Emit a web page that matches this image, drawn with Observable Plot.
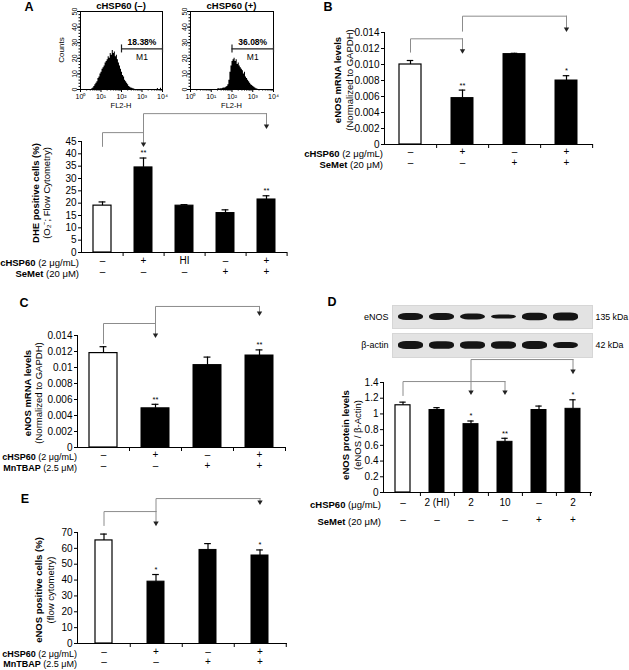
<!DOCTYPE html>
<html><head><meta charset="utf-8">
<script src="https://cdn.jsdelivr.net/npm/d3@7"></script>
<script src="https://cdn.jsdelivr.net/npm/@observablehq/plot@0.6"></script>
<style>
body{margin:0;background:#fff;}
#fig{position:relative;width:629px;height:670px;overflow:hidden;background:#fff;font-family:"Liberation Sans",Arial,Helvetica,sans-serif;color:#000;}
#fig svg{position:absolute;left:0;top:0;}
.lbl{position:absolute;white-space:nowrap;line-height:1;}
</style></head><body><div id="fig"></div><script>
// ---------- DATA ----------
// Panel A: flow cytometry histograms (log10 FL2-H channel, counts)
const histNegExp = [0.55,0.6,0.65,0.7,0.75,0.8,0.85,0.9,0.95,1.0,1.05,1.1,1.15,1.2,1.25,1.3,1.35,1.4,1.45,1.5,1.55,1.6,1.65,1.7,1.75,1.8,1.85,1.9,1.95,2.0,2.05,2.1,2.15,2.2,2.25,2.3,2.35,2.4,2.45,2.5,2.55,2.6,2.65,3.75,3.8,3.9,3.95];
const histNegCount = [0.5,1,2,3,4,5,7,8,10,11,13,14,15,17,18,19,21,20,23,22,25,23,24,21,22,19,17,15,13,11,9,8,6,5,4,3,2,1.5,1,0.8,0.5,0.3,0,0.6,0,0.8,0];
const histPosExp = [1.3,1.35,1.4,1.45,1.5,1.55,1.6,1.65,1.7,1.75,1.8,1.85,1.9,1.95,2.0,2.05,2.1,2.15,2.2,2.25,2.3,2.35,2.4,2.45,2.5,2.55,2.6,2.65,2.7,2.75,2.8,2.85,2.9,2.95,3.0,3.05,3.1,3.15,3.2,3.25];
const histPosCount = [0.3,0.5,0.3,0.5,0.5,0.8,1,1,1.5,2,3,6,11,15,18,19,20,18,19,16,17,15,14,13,12,10,11,8,7,6,5,4,3,2.5,2,1.5,1,0.5,0.3,0];
const histTitles = ["cHSP60 (–)", "cHSP60 (+)"];
const histMarkerPct = ["18.38%", "36.08%"];
const histMarkerName = "M1";

// Panel A: DHE positive cells
const aConditions = ["Control","cHSP60","HI cHSP60","SeMet","cHSP60+SeMet"];
const aValues = [19, 34.5, 19, 16, 21.5];
const aErrors = [1.5, 3.8, 0.4, 1.3, 1.5];
const aStars = ["", "**", "", "", "**"];
const aRow1 = ["–","+","HI","–","+"];
const aRow2 = ["–","–","–","+","+"];
const aTicks = [0,5,10,15,20,25,30,35,40,45];

// Panel B: eNOS mRNA (SeMet)
const bConditions = ["Control","cHSP60","SeMet","cHSP60+SeMet"];
const bValues = [0.0100, 0.0058, 0.0113, 0.0080];
const bErrors = [0.0005, 0.0010, 0.0001, 0.0006];
const bStars = ["", "**", "", "*"];
const bRow1 = ["–","+","–","+"];
const bRow2 = ["–","–","+","+"];
const bTicks = [0,0.002,0.004,0.006,0.008,0.010,0.012,0.014];

// Panel C: eNOS mRNA (MnTBAP)
const cConditions = ["Control","cHSP60","MnTBAP","cHSP60+MnTBAP"];
const cValues = [0.0118, 0.0049, 0.0103, 0.0115];
const cErrors = [0.0008, 0.0005, 0.0010, 0.0007];
const cStars = ["", "**", "", "**"];
const cRow1 = ["–","+","–","+"];
const cRow2 = ["–","–","+","+"];
const cTicks = [0,0.002,0.004,0.006,0.008,0.01,0.012,0.014];

// Panel D: eNOS protein (western blot)
const dConditions = ["Control","HI 2","cHSP60 2","cHSP60 10","SeMet","cHSP60 2+SeMet"];
const dValues = [1.11, 1.05, 0.87, 0.645, 1.05, 1.065];
const dErrors = [0.04, 0.03, 0.04, 0.045, 0.05, 0.115];
const dStars = ["", "", "*", "**", "", "*"];
const dRow1 = ["–","2 (HI)","2","10","–","2"];
const dRow2 = ["–","–","–","–","+","+"];
const dTicks = [0,0.2,0.4,0.6,0.8,1,1.2,1.4];
const blotENOS = [1.0, 1.0, 0.85, 0.6, 1.05, 1.15];
const blotActin = [1.1, 1.05, 1.05, 1.05, 1.1, 0.85];

// Panel E: eNOS positive cells
const eConditions = ["Control","cHSP60","MnTBAP","cHSP60+MnTBAP"];
const eValues = [65, 39, 59, 55.5];
const eErrors = [4, 4.5, 4, 3.5];
const eStars = ["", "*", "", "*"];
const eRow1 = ["–","+","–","+"];
const eRow2 = ["–","–","+","+"];
const eTicks = [0,10,20,30,40,50,60,70];

// ---------- DRAWING ----------
const W = 629, H = 670;
const FONT = '"Liberation Sans", Arial, Helvetica, sans-serif';
const GREY = "#8c8c8c";
const fig = document.getElementById("fig");

function label(html, x, y, o = {}) {
  const d = document.createElement("div");
  d.className = "lbl";
  d.innerHTML = html;
  d.style.left = x + "px"; d.style.top = y + "px";
  d.style.fontSize = (o.size || 9.5) + "px";
  if (o.bold) d.style.fontWeight = "bold";
  const tx = o.anchor === "end" ? "-100%" : o.anchor === "start" ? "0" : "-50%";
  d.style.transform = `translate(${tx},-50%)` + (o.rotate ? ` rotate(${o.rotate}deg)` : "");
  fig.appendChild(d);
}

function base(f) {
  return {
    width: W, height: H,
    marginLeft: f.l, marginRight: W - f.r, marginTop: f.t, marginBottom: H - f.b,
    style: {fontFamily: FONT, fontSize: "10px", background: "transparent", overflow: "visible"}
  };
}

function barPanel(c) {
  const n = c.cats.length;
  const data = c.cats.map((cat, i) => ({cat, value: c.values[i], err: c.errors[i], star: c.stars[i], r1: c.row1[i], r2: c.row2[i], control: i === 0}));
  const step = (c.frame.r - c.frame.l) / n;
  const bw = step * (1 - c.pad);
  const capInset = Math.max(0, (bw - 7) / 2);
  const top = d => d.value + d.err;
  const pts = [], arrows = [];
  c.brackets.forEach((b, k) => {
    pts.push({k, x: c.cats[b.from], y: b.leftEnd});
    pts.push({k, x: c.cats[b.from], y: b.top});
    pts.push({k, x: c.cats[b.to[b.to.length - 1]], y: b.top});
    b.to.forEach(t => arrows.push({x: c.cats[t], y1: b.top, y2: b.arrowEnd}));
  });
  const y0 = c.domain[0];
  const svg = Plot.plot({
    ...base(c.frame),
    x: {domain: c.cats, paddingInner: c.pad, paddingOuter: c.pad / 2, axis: null, label: null},
    y: {domain: c.domain, axis: null, label: null},
    marks: [
      Plot.barY(data.filter(d => d.control), {x: "cat", y: "value", fill: "white", stroke: "black", strokeWidth: 1.2}),
      Plot.barY(data.filter(d => !d.control), {x: "cat", y: "value", fill: "black", stroke: "black", strokeWidth: 1}),
      Plot.ruleX(data, {x: "cat", y1: "value", y2: top, stroke: "black", strokeWidth: 1.2}),
      Plot.tickY(data, {x: "cat", y: top, insetLeft: capInset, insetRight: capInset, stroke: "black", strokeWidth: 1.2}),
      Plot.text(data.filter(d => d.star), {x: "cat", y: top, text: "star", dy: -5, fontSize: 7.5}),
      Plot.ruleY([y0], {stroke: "black"}),
      Plot.frame({anchor: "left", stroke: "black"}),
      Plot.axisY({ticks: c.ticks, tickFormat: c.fmt, tickSize: 3, tickPadding: 2, fontSize: c.tickSize || 10, label: null}),
      Plot.ruleX(data, {x: "cat", y1: () => y0, y2: () => y0, dx: step / 2, insetBottom: -4, stroke: "black"}),
      Plot.line(pts, {x: "x", y: "y", z: "k", stroke: GREY, strokeWidth: 1}),
      Plot.ruleX(arrows, {x: "x", y1: "y1", y2: "y2", stroke: GREY, strokeWidth: 1}),
      Plot.dot(arrows, {x: "x", y: "y2", symbol: "triangle", r: 2, fill: "#222", stroke: null, rotate: 180, dy: -1.5}),
      Plot.text(data, {x: "cat", text: "r1", frameAnchor: "bottom", dy: c.rowDy[0], fontSize: 10}),
      Plot.text(data, {x: "cat", text: "r2", frameAnchor: "bottom", dy: c.rowDy[1], fontSize: 10})
    ]
  });
  fig.appendChild(svg);
  label(c.rowLabels[0], c.rowLabelX, c.frame.b + c.rowDy[0], {anchor: "end", size: c.rowSize || 9.5});
  label(c.rowLabels[1], c.rowLabelX, c.frame.b + c.rowDy[1], {anchor: "end", size: c.rowSize || 9.5});
  label(`<b>${c.yTitle[0]}</b>`, c.yTitleX[0], c.yTitleY, {rotate: -90});
  label(c.yTitle[1], c.yTitleX[1], c.yTitleY, {rotate: -90});
}

const sup = ["⁰","¹","²","³","⁴"];
const minorX = [];
for (let k = 0; k < 4; k++) for (let m = 2; m <= 9; m++) minorX.push(k + Math.log10(m));
const minorY = d3.range(0, 51, 2);

function histPanel(c) {
  const pts = c.exps.map((e, i) => ({e, n: c.counts[i]}));
  const marker = {from: 2, to: 4, mid: 3, n: 26, pct: c.pct, name: histMarkerName};
  const ends = [{x: marker.from, n: marker.n}, {x: marker.to, n: marker.n}];
  const svg = Plot.plot({
    ...base(c.frame),
    x: {domain: [0, 4], axis: null, label: null},
    y: {domain: [0, 50], axis: null, label: null},
    marks: [
      Plot.areaY(pts, {x: "e", y: "n", curve: "step-after", fill: "black"}),
      Plot.frame({stroke: "black"}),
      Plot.axisY({ticks: [0,10,20,30,40,50], tickSize: 3, tickPadding: 1, tickRotate: -90, fontSize: 7, label: null}),
      Plot.axisY({ticks: minorY, tickSize: 1.5, tickFormat: () => "", label: null}),
      Plot.axisX({ticks: [0,1,2,3,4], tickSize: 3, tickPadding: 2, tickFormat: d => "10" + sup[d], fontSize: 7, label: null}),
      Plot.axisX({ticks: minorX, tickSize: 1.5, tickFormat: () => "", label: null}),
      Plot.ruleY([marker], {y: "n", x1: "from", x2: "to", stroke: "#222", strokeWidth: 1.2}),
      Plot.ruleX(ends, {x: "x", y1: "n", y2: "n", insetTop: -4, insetBottom: -4, stroke: "#222", strokeWidth: 1.2}),
      Plot.text([marker], {x: "mid", y: "n", text: "pct", dy: -7, fontWeight: "bold", fontSize: 8.5}),
      Plot.text([marker], {x: "mid", y: "n", text: "name", dy: 8, fontSize: 8.5})
    ]
  });
  fig.appendChild(svg);
  const cx = (c.frame.l + c.frame.r) / 2;
  label(c.title, cx, 5.5, {bold: true, size: 9.5});
  label("FL2-H", cx, 106, {size: 7.5});
}

function blotPanel(c) {
  const bands = dConditions.map((lane, i) => ({lane, v: c.values[i]}));
  const svg = Plot.plot({
    ...base(c.frame),
    x: {domain: dConditions, paddingInner: 0.2, paddingOuter: 0.25, align: 0.3, axis: null, label: null},
    y: {domain: [-3.3, 3.3], axis: null, label: null},
    marks: [
      Plot.frame({fill: "#e3e3e3", stroke: "#d6d6d6"}),
      Plot.barY(bands, {x: "lane", y1: d => -d.v, y2: d => d.v, fill: "#151515", rx: 8, ry: 3}),
      Plot.text([c.name], {frameAnchor: "left", dx: -4, textAnchor: "end", fontSize: 9}),
      Plot.text([c.kda], {frameAnchor: "right", dx: 3, textAnchor: "start", fontSize: 8.8})
    ]
  });
  fig.appendChild(svg);
}

// Panel letters
label("A", 29, 7, {bold: true, size: 12.5});
label("B", 328, 7, {bold: true, size: 12.5});
label("C", 24, 303, {bold: true, size: 12.5});
label("D", 332, 302, {bold: true, size: 12.5});
label("E", 25, 499, {bold: true, size: 12.5});

// Histograms
histPanel({exps: histNegExp, counts: histNegCount, frame: {l: 80, r: 162, t: 11, b: 89}, title: histTitles[0], pct: histMarkerPct[0]});
histPanel({exps: histPosExp, counts: histPosCount, frame: {l: 190, r: 273, t: 11, b: 89}, title: histTitles[1], pct: histMarkerPct[1]});
label("Counts", 62, 50, {rotate: -90, size: 8});

barPanel({
  cats: aConditions, values: aValues, errors: aErrors, stars: aStars, row1: aRow1, row2: aRow2,
  ticks: aTicks, fmt: d => String(d), domain: [0, 45], frame: {l: 81, r: 287, t: 141, b: 252}, pad: 0.56,
  rowDy: [11, 22], rowLabels: ["<b>cHSP60</b> (2 μg/mL)", "<b>SeMet</b> (20 μM)"], rowLabelX: 79,
  yTitle: ["DHE positive cells (%)", "(O₂⁻; Flow Cytometry)"], yTitleX: [35.5, 47], yTitleY: 193,
  brackets: [{from: 0, to: [1], top: 48.6, leftEnd: 43, arrowEnd: 43.4}, {from: 1, to: [4], top: 56.3, leftEnd: 48.6, arrowEnd: 50.7}]
});

barPanel({
  cats: bConditions, values: bValues, errors: bErrors, stars: bStars, row1: bRow1, row2: bRow2,
  ticks: bTicks, fmt: d => d === 0 ? "0" : d.toFixed(3), domain: [0, 0.014], frame: {l: 384, r: 593, t: 32, b: 144}, pad: 0.57,
  rowDy: [10, 21], rowLabels: ["<b>cHSP60</b> (2 μg/mL)", "<b>SeMet</b> (20 μM)"], rowLabelX: 383,
  yTitle: ["eNOS mRNA levels", "(Normalized to GAPDH)"], yTitleX: [338, 349.5], yTitleY: 80,
  brackets: [{from: 0, to: [1], top: 0.01321, leftEnd: 0.01154, arrowEnd: 0.01154}, {from: 1, to: [3], top: 0.01604, leftEnd: 0.01416, arrowEnd: 0.01425}]
});

barPanel({
  cats: cConditions, values: cValues, errors: cErrors, stars: cStars, row1: cRow1, row2: cRow2,
  ticks: cTicks, fmt: d => String(d), domain: [0, 0.014], frame: {l: 77, r: 285, t: 335, b: 447}, pad: 0.46,
  rowDy: [10, 21], rowSize: 9, rowLabels: ["<b>cHSP60</b> (2 μg/mL)", "<b>MnTBAP</b> (2.5 μM)"], rowLabelX: 77,
  yTitle: ["eNOS mRNA levels", "(Normalized to GAPDH)"], yTitleX: [28, 39], yTitleY: 393,
  brackets: [{from: 0, to: [1], top: 0.0155, leftEnd: 0.0130, arrowEnd: 0.01388}, {from: 1, to: [3], top: 0.01763, leftEnd: 0.0155, arrowEnd: 0.01663}]
});

blotPanel({values: blotENOS, frame: {l: 392, r: 592, t: 305, b: 328}, name: "eNOS", kda: "135 kDa"});
blotPanel({values: blotActin, frame: {l: 392, r: 592, t: 333, b: 357}, name: "β-actin", kda: "42 kDa"});

barPanel({
  cats: dConditions, values: dValues, errors: dErrors, stars: dStars, row1: dRow1, row2: dRow2,
  ticks: dTicks, fmt: d => String(d), domain: [0, 1.4], frame: {l: 383, r: 592, t: 382, b: 492}, pad: 0.55,
  rowDy: [13, 30], rowLabels: ["<b>cHSP60</b> (μg/mL)", "<b>SeMet</b> (20 μM)"], rowLabelX: 381,
  yTitle: ["eNOS protein levels", "(eNOS / β-Actin)"], yTitleX: [346, 357.5], yTitleY: 435,
  brackets: [{from: 0, to: [2, 3], top: 1.412, leftEnd: 1.234, arrowEnd: 1.26}, {from: 2, to: [5], top: 1.692, leftEnd: 1.412, arrowEnd: 1.527}]
});

barPanel({
  cats: eConditions, values: eValues, errors: eErrors, stars: eStars, row1: eRow1, row2: eRow2,
  ticks: eTicks, fmt: d => String(d), domain: [0, 70], frame: {l: 77, r: 287, t: 532, b: 643}, pad: 0.67,
  rowDy: [11, 21], rowSize: 9, rowLabels: ["<b>cHSP60</b> (2 μg/mL)", "<b>MnTBAP</b> (2.5 μM)"], rowLabelX: 77,
  yTitle: ["eNOS positive cells (%)", "(flow cytometry)"], yTitleX: [39, 50.5], yTitleY: 590,
  brackets: [{from: 0, to: [1], top: 83.2, leftEnd: 74.4, arrowEnd: 75}, {from: 1, to: [3], top: 91.4, leftEnd: 83.2, arrowEnd: 88.3}]
});
</script></body></html>
